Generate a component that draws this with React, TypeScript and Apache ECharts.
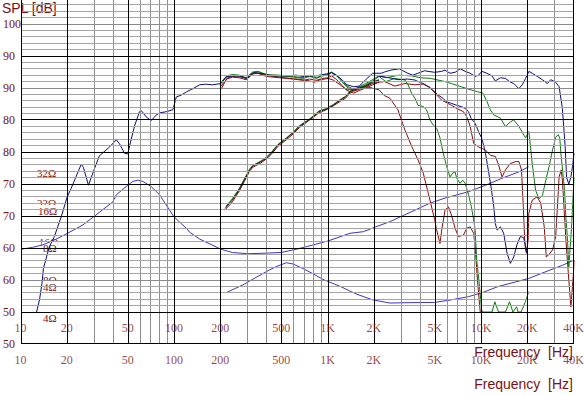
import React, { useEffect, useRef } from 'react';
import * as echarts from 'echarts';

// ---------- axes / ticks ----------
const freqTicks = [10, 20, 50, 100, 200, 500, 1000, 2000, 5000, 10000, 20000, 40000];
const freqTickLabels = ['10', '20', '50', '100', '200', '500', '1K', '2K', '5K', '10K', '20K', '40K'];
const minorFreqLines = [30, 40, 60, 70, 80, 90, 300, 400, 600, 700, 800, 900, 3000, 4000, 6000, 7000, 8000, 9000, 30000];
const yTickValues = [50, 55, 60, 65, 70, 75, 80, 85, 90, 95, 100];
const yTickLabels = ['50', '50', '60', '60', '70', '70', '80', '80', '90', '90', '100'];
const majorDbLines = [50, 55, 65, 70, 75, 80, 85, 95];
const midDbLines = [60, 90, 100];
const impedanceLabels = ['32Ω', '32Ω', '16Ω', '16Ω', '8Ω', '8Ω', '4Ω', '4Ω'];

// ---------- series (Hz, dB / scaled) ----------
const navyMain = [
  [12.6, 54.9], [13.2, 56.9], [13.7, 59.5], [14.0, 61.8], [14.9, 64.2], [15.3, 65.2], [16.5, 66.8], [18.3, 69.9],
  [20, 73.0], [21.2, 74.3], [24.7, 78.1], [25.5, 77.6], [27.5, 74.8], [30, 77.3], [32.4, 79.4], [37.8, 80.8],
  [41.7, 81.9], [43.8, 81.3], [47.2, 79.8], [49.6, 79.7], [52.1, 81.9], [54.8, 84.0], [59.1, 86.3], [60.6, 86.5],
  [65.3, 85.5], [70.5, 84.9], [76.1, 85.8], [79.9, 86.1], [88.3, 86.3], [97.6, 86.6], [102.7, 88.6], [110.8, 88.9],
  [119.5, 89.4], [132, 89.9], [145.6, 90.5], [160, 90.6], [177, 90.5], [201, 90.7], [216, 91.7], [238, 91.9],
  [264, 91.9], [292, 91.5], [330, 92.4], [357, 92.3], [385, 92.2], [426, 91.9], [507, 91.9], [560, 91.9],
  [620, 92.0], [685, 91.8], [758, 91.9], [838, 91.9], [975, 92.2], [1053, 92.4], [1140, 91.9], [1230, 91.3],
  [1330, 90.5], [1470, 90.2], [1595, 90.3], [1760, 91.3], [1950, 92.3], [2220, 92.3], [2330, 92.5], [2570, 92.8],
  [2920, 93.0], [3070, 92.7], [3310, 92.3], [3570, 92.0], [3850, 92.3], [4260, 92.7], [4480, 92.6], [4960, 92.45],
  [5500, 92.6], [5780, 92.8], [6230, 92.3], [6720, 92.45], [7250, 93.0], [7820, 92.6], [8430, 92.3], [9080, 91.8],
  [9550, 92.0], [10050, 92.6], [10840, 92.3], [11680, 91.9], [12290, 91.1], [13260, 91.6], [14300, 91.5],
  [15420, 90.9], [16220, 90.7], [17490, 89.9], [18400, 90.5], [19340, 91.5], [20340, 92.6], [21390, 92.3],
  [23070, 91.8], [24880, 91.3], [26830, 90.7], [28200, 91.3], [30400, 90.9], [32000, 90.2], [33600, 86.8],
  [35000, 81.0], [35800, 76.0], [37000, 75.0], [38200, 76.1], [39100, 77.7], [40000, 79.8]
];

const navyRolloff = [
  [2000, 92.0], [2500, 91.6], [2850, 91.3], [3300, 91.4], [3680, 91.25], [3860, 91.0], [4170, 90.7], [4500, 90.2],
  [4960, 89.4], [5210, 88.9], [5610, 88.4], [5900, 87.85], [6360, 87.6], [6890, 87.3], [7350, 87.1], [7820, 86.8],
  [8230, 86.3], [8540, 85.25], [9080, 84.5], [9550, 83.2], [10050, 82.1], [10300, 81.1], [10600, 79.8],
  [11150, 76.7], [11600, 74.1], [12000, 71.5], [12300, 68.8], [12630, 67.8], [13260, 68.3], [13930, 67.3],
  [14660, 64.2], [15400, 62.6], [16200, 63.6], [17000, 65.5], [17900, 66.8], [18800, 66.6], [19900, 64.0]
];

const greenA = [
  [201, 90.7], [219, 91.8], [238, 92.0], [264, 91.9], [292, 91.5], [323, 92.4], [350, 92.55], [396, 92.0],
  [485, 91.9], [592, 91.7], [685, 91.5], [758, 91.8], [838, 91.5], [925, 91.9], [1000, 92.0], [1053, 92.4],
  [1140, 91.9], [1230, 91.0], [1330, 90.1], [1470, 89.6], [1595, 90.0], [1760, 90.5], [1950, 91.1], [2150, 91.8],
  [2380, 91.0], [2720, 91.5], [3170, 91.25], [3320, 90.5], [3500, 89.2], [3680, 88.4], [3860, 87.3], [4170, 87.1],
  [4380, 86.6], [4610, 85.0], [4850, 84.2], [5100, 83.7], [5360, 82.2], [5630, 79.8], [5930, 77.7], [6230, 76.1],
  [6490, 76.7], [6720, 76.9], [6890, 75.9], [7250, 75.1], [7540, 75.6], [7820, 75.1], [8230, 73.3], [8570, 71.5],
  [8880, 69.4], [9080, 67.8], [9300, 63.1], [9650, 59.5], [9970, 55.8], [10060, 55.0], [11700, 55.0],
  [12200, 56.6], [12900, 55.0], [14300, 55.0], [15200, 56.6], [16000, 55.0], [16900, 55.8], [17300, 55.0],
  [18100, 55.0], [19300, 56.6], [20300, 58.2]
];

const greenB = [
  [201, 90.9], [219, 91.9], [238, 92.1], [264, 92.0], [292, 91.6], [323, 92.5], [350, 92.6], [396, 92.1],
  [485, 92.0], [592, 91.8], [685, 91.6], [758, 91.9], [838, 91.6], [925, 92.0], [1000, 92.1], [1053, 92.5],
  [1140, 92.0], [1230, 91.2], [1330, 90.3], [1470, 89.8], [1595, 90.2], [1760, 90.7], [1950, 91.3], [2150, 91.9],
  [2380, 91.6], [2900, 92.0], [3500, 91.9], [4000, 91.6], [4650, 91.5], [5780, 91.0], [6360, 90.7], [7350, 90.2],
  [8540, 89.7], [9450, 89.4], [10200, 89.2], [10840, 87.9], [11400, 86.6], [12000, 85.8], [13260, 85.3],
  [14300, 84.0], [15400, 84.7], [16200, 85.0], [17500, 84.0], [19340, 82.2], [20340, 83.2], [21400, 78.1],
  [22500, 74.0], [23650, 72.7], [24900, 73.2], [26200, 75.6], [27500, 77.7], [29000, 80.3], [30400, 82.3],
  [31500, 82.7], [32300, 82.2], [33000, 79.3], [34700, 74.1], [35400, 69.9], [36300, 66.25], [37000, 62.0],
  [38500, 68.0], [40000, 76.0]
];

const redA = [
  [201, 89.8], [219, 91.5], [238, 91.8], [277, 91.7], [300, 91.5], [330, 92.4], [366, 92.2], [417, 91.9],
  [485, 91.7], [560, 91.5], [650, 91.35], [758, 91.1], [816, 90.9], [880, 91.25], [1000, 91.5], [1080, 91.25],
  [1200, 90.5], [1330, 89.7], [1470, 89.8], [1710, 90.2], [1790, 90.2], [2150, 89.7], [2330, 88.8], [2530, 88.4],
  [2850, 86.6], [3170, 83.4], [3520, 80.8], [3860, 78.75], [4170, 76.7], [4500, 73.5], [4610, 72.5], [4950, 69.4],
  [5100, 67.8], [5360, 65.7], [5500, 67.8], [5780, 70.9], [6070, 71.45], [6360, 70.2], [6720, 68.1], [7060, 66.8],
  [7620, 67.0], [8010, 68.1], [8430, 68.3], [8880, 67.3], [9080, 65.2], [9400, 60.0], [9800, 55.0], [10200, 55.0]
];

const redB = [
  [201, 90.3], [219, 91.4], [238, 91.7], [264, 91.6], [292, 91.3], [323, 92.2], [350, 92.3], [396, 91.8],
  [485, 91.6], [592, 91.4], [685, 91.2], [758, 91.4], [838, 91.2], [925, 91.5], [1000, 91.6], [1053, 91.9],
  [1140, 91.3], [1230, 90.4], [1330, 89.6], [1470, 89.2], [1595, 89.6], [1760, 90.0], [1950, 90.5], [2150, 90.9],
  [2330, 91.0], [2720, 90.3], [3170, 90.7], [3680, 90.5], [4170, 90.6], [4610, 90.1], [5100, 88.9], [5500, 88.1],
  [6360, 87.3], [6890, 86.8], [7620, 86.3], [8010, 85.5], [8430, 84.0], [8880, 81.35], [9550, 80.8],
  [10600, 80.3], [11400, 79.5], [12300, 79.3], [12900, 78.0], [13600, 76.1], [14300, 77.2], [15400, 78.2],
  [16700, 78.5], [17500, 78.5], [18200, 77.2], [18700, 71.5], [19100, 66.25], [19340, 64.7], [19600, 64.2],
  [20100, 66.25], [20300, 70.4], [21400, 72.5], [23000, 73.0], [24300, 72.0], [25600, 68.3], [26400, 63.6],
  [27500, 64.0], [29000, 64.7], [30400, 66.8], [32000, 76.1], [33000, 77.2], [33600, 75.6], [35500, 66.0],
  [37000, 60.0], [38200, 55.8], [39700, 61.1], [40000, 63.1]
];

const risingBlack = [
  [214, 71.2], [238, 72.5], [264, 74.1], [285, 75.6], [308, 77.2], [323, 77.8], [366, 78.5], [396, 79.0],
  [426, 79.8], [472, 81.1], [535, 82.1], [592, 83.0], [650, 84.0], [720, 84.7], [800, 85.5], [870, 86.3],
  [975, 86.7], [1080, 87.3], [1200, 88.1], [1300, 88.6], [1390, 89.4], [1470, 89.7], [1600, 90.0], [1760, 90.3],
  [1950, 90.9], [2150, 91.2]
];
const risingGreen = [
  [216, 71.5], [238, 72.7], [264, 74.3], [285, 75.8], [308, 77.3], [323, 77.9], [366, 78.6], [396, 79.2],
  [426, 79.9], [472, 81.2], [535, 82.2], [592, 83.1], [650, 84.1], [720, 84.8], [800, 85.6], [870, 86.4],
  [975, 86.8], [1080, 87.4], [1200, 88.2], [1300, 88.7], [1390, 89.5], [1470, 89.8], [1600, 90.1], [1760, 90.4],
  [1950, 91.0], [2150, 91.3]
];
const risingRed = [
  [212, 70.9], [238, 72.2], [264, 73.9], [285, 75.4], [308, 77.0], [323, 77.6], [366, 78.3], [396, 78.9],
  [426, 79.6], [472, 80.9], [535, 81.9], [592, 82.8], [650, 83.8], [720, 84.6], [800, 85.4], [870, 86.1],
  [975, 86.6], [1080, 87.2], [1200, 87.9], [1300, 88.4], [1390, 89.2], [1470, 89.5], [1600, 89.8], [1760, 90.2],
  [1950, 90.7], [2150, 91.0]
];

const impedance1 = [
  [10, 64.8], [11.9, 65.1], [13.9, 65.5], [16.5, 66.25], [19.7, 67.2], [25.3, 68.6], [29.8, 69.9], [39.6, 72.2],
  [41.7, 73.3], [49.6, 74.8], [53.5, 75.4], [57.7, 75.6], [62.2, 75.4], [70.5, 74.6], [80, 73.3], [98.9, 69.9],
  [119.2, 68.1], [125, 67.5], [145.6, 66.4], [201, 64.8], [238, 64.3], [300, 64.1], [396, 64.2], [494, 64.3],
  [620, 64.8], [720, 65.2], [1000, 66.1], [1390, 67.3], [1700, 67.55], [2040, 68.3], [2520, 69.1], [3170, 70.2],
  [4610, 72.0], [5780, 72.8], [8230, 73.8], [10600, 74.8], [13600, 75.9], [17500, 76.9], [20300, 77.7]
];

const impedance2 = [
  [216, 58.0], [277, 59.2], [339, 60.4], [417, 61.6], [472, 62.2], [535, 62.7], [592, 62.5], [685, 61.8],
  [795, 61.0], [925, 60.1], [1200, 59.0], [1530, 57.8], [1950, 56.9], [2530, 56.4], [3170, 56.45], [4960, 56.5],
  [6360, 56.9], [8230, 57.4], [10050, 58.0], [12900, 59.0], [16700, 59.7], [20300, 60.25], [26200, 61.3],
  [33600, 62.3], [40000, 63.1]
];

const TEXT = '#7a1010';
const NAVY = '#0c0c78';
const IMP = '#3f33c4';
const GREEN = '#0a7a0a';
const RED = '#8b0a0a';
const BLACK = '#1a1a1a';

function curve(name: string, data: number[][], color: string, z = 3) {
  return {
    type: 'line',
    name,
    data,
    symbol: 'none',
    showSymbol: false,
    silent: true,
    clip: true,
    z,
    color,
    lineStyle: { color, width: 1 },
  };
}

export default function App() {
  const ref = useRef<HTMLDivElement>(null);
  useEffect(() => {
    document.body.style.margin = '0';
    const chart = echarts.init(ref.current!, undefined, { renderer: 'svg' });

    const minorH: number[] = [];
    for (let v = 56; v <= 103; v++) {
      if (!majorDbLines.includes(v) && !midDbLines.includes(v)) minorH.push(v);
    }

    const ROW1 = 52.5;
    const ROW2 = 47.5;

    const impY = [173, 203, 211, 242, 248, 280, 287, 318];
    const impX = [36, 36, 37, 38, 42, 42, 42, 42];

    // snap grid lines to half pixels through the axis scales, for crisp 1px rules
    let snapX = (f: number) => f;
    let snapY = (v: number) => v;

    const gridSeries = () => [
      {
        type: 'line',
        name: 'gridMinor',
        data: [],
        silent: true,
        z: 1,
        markLine: {
          silent: true,
          symbol: ['none', 'none'],
          label: { show: false },
          animation: false,
          data: [
            ...minorFreqLines.map((f) => ({ xAxis: snapX(f), lineStyle: { color: '#8e8e8e', width: 1, type: 'solid' } })),
            ...minorH.map((v) => ({ yAxis: snapY(v), lineStyle: { color: '#a4a4a4', width: 1, type: 'solid' } })),
            ...midDbLines.map((v) => ({ yAxis: snapY(v), lineStyle: { color: '#8a8a8a', width: 1, type: 'solid' } })),
          ],
        },
      },
      {
        type: 'line',
        name: 'gridMajor',
        data: [],
        silent: true,
        z: 1,
        markLine: {
          silent: true,
          symbol: ['none', 'none'],
          label: { show: false },
          animation: false,
          data: [
            ...freqTicks.map((f) => ({ xAxis: snapX(f), lineStyle: { color: '#000000', width: 1, type: 'solid' } })),
            ...majorDbLines.map((v) => ({ yAxis: snapY(v), lineStyle: { color: '#000000', width: 1, type: 'solid' } })),
          ],
        },
      },
    ];

    const labelSeries = (name: string, row: number) => ({
      type: 'scatter',
      name,
      silent: true,
      clip: false,
      z: 5,
      symbolSize: 1,
      color: TEXT,
      itemStyle: { color: 'rgba(255,255,255,0)' },
      data: freqTicks.map((f, i) => ({ value: [f, row], name: freqTickLabels[i] })),
      label: {
        show: true,
        position: [0, 0],
        align: 'center',
        verticalAlign: 'middle',
        formatter: '{b}',
        color: TEXT,
        textBorderWidth: 0,
        fontFamily: '"Liberation Serif", serif',
        fontSize: 12,
      },
    });

    const option: any = {
      animation: false,
      backgroundColor: '#ffffff',
      grid: { left: 21, right: 11, top: 0, bottom: 51 },
      xAxis: {
        type: 'log',
        logBase: 10,
        min: 10,
        max: 40000,
        axisLine: { show: false },
        axisTick: { show: false },
        axisLabel: { show: false },
        splitLine: { show: false },
      },
      yAxis: {
        type: 'value',
        min: 50,
        max: 103.75,
        interval: 5,
        axisLine: { show: false },
        axisTick: { show: false },
        splitLine: { show: false },
        axisLabel: {
          align: 'left',
          margin: 18,
          color: TEXT,
          fontFamily: '"Liberation Serif", serif',
          fontSize: 12,
          formatter: (v: number) => {
            const i = yTickValues.findIndex((t) => Math.abs(t - v) < 1e-6);
            return i >= 0 ? yTickLabels[i] : '';
          },
        },
      },
      graphic: [
        {
          type: 'text',
          x: 1,
          y: 0,
          z: 2,
          style: {
            text: 'SPL [dB]',
            font: '14px "Liberation Sans", sans-serif',
            fill: TEXT,
            backgroundColor: '#ffffff',
            padding: [1, 2, 1, 1],
          },
        },
        ...impedanceLabels.map((t, i) => ({
          type: 'text',
          x: impX[i],
          y: impY[i],
          z: 2,
          style: {
            text: t,
            font: '11px "Liberation Serif", serif',
            fill: TEXT,
            verticalAlign: 'middle',
            backgroundColor: '#ffffff',
            padding: [1, 1, 0, 1],
          },
        })),
        {
          type: 'text',
          x: 573,
          y: 352,
          z: 6,
          style: {
            text: 'Frequency  [Hz]',
            font: '14px "Liberation Sans", sans-serif',
            fill: TEXT,
            align: 'right',
            verticalAlign: 'middle',
          },
        },
        {
          type: 'text',
          x: 573,
          y: 384,
          z: 6,
          style: {
            text: 'Frequency  [Hz]',
            font: '14px "Liberation Sans", sans-serif',
            fill: TEXT,
            align: 'right',
            verticalAlign: 'middle',
          },
        },
      ],
      series: [
        ...gridSeries(),
        curve('Z1', impedance1, IMP),
        curve('Z2', impedance2, IMP),
        curve('redA', redA, RED),
        curve('redB', redB, RED),
        curve('greenA', greenA, GREEN),
        curve('greenB', greenB, GREEN),
        curve('risingRed', risingRed, RED),
        curve('risingGreen', risingGreen, GREEN),
        curve('risingBlack', risingBlack, BLACK),
        curve('navyRolloff', navyRolloff, NAVY),
        curve('navyMain', navyMain, NAVY),
        labelSeries('xLabels1', ROW1),
        labelSeries('xLabels2', ROW2),
      ],
    };
    chart.setOption(option);

    try {
      snapX = (f: number) => {
        const px = chart.convertToPixel({ xAxisIndex: 0 }, f) as number;
        const s = Math.min(Math.max(Math.floor(px) + 0.5, 21.5), 573.5);
        return chart.convertFromPixel({ xAxisIndex: 0 }, s) as number;
      };
      snapY = (v: number) => {
        const py = chart.convertToPixel({ yAxisIndex: 0 }, v) as number;
        const s = Math.min(Math.max(Math.floor(py) + 0.5, 0.5), 343.5);
        return chart.convertFromPixel({ yAxisIndex: 0 }, s) as number;
      };
      const gs = gridSeries();
      chart.setOption({ series: [gs[0], gs[1]] });
    } catch (e) {
      // keep unsnapped grid
    }

    return () => chart.dispose();
  }, []);
  return <div ref={ref} style={{ width: 585, height: 395 }} />;
}
